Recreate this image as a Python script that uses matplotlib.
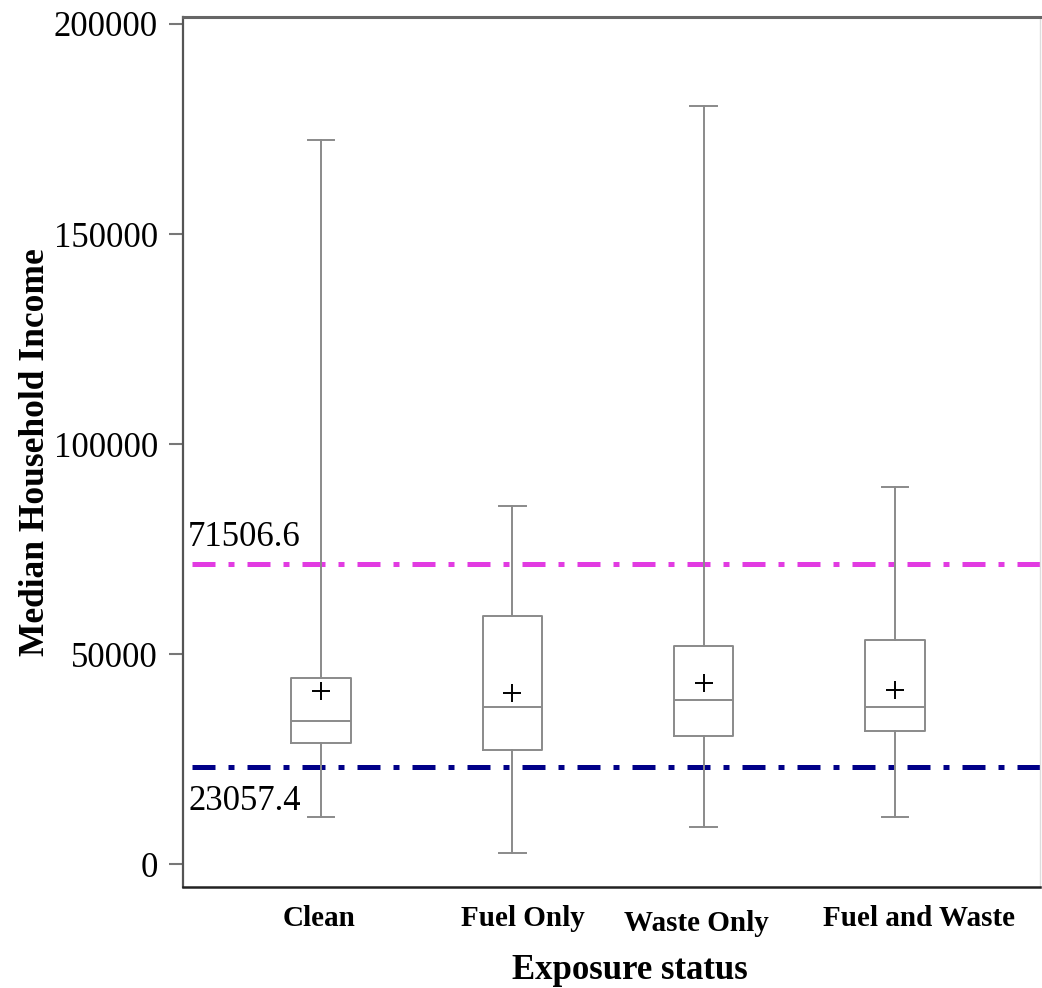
import matplotlib
matplotlib.use("Agg")
import matplotlib.pyplot as plt
import matplotlib.transforms as mtransforms

# values
groups = ["Clean", "Fuel Only", "Waste Only", "Fuel and Waste"]
whisker_low = [11190, 2620, 8810, 11190]
q1 = [28810, 27140, 30480, 31670]
median = [34050, 37380, 39050, 37380]
q3 = [44290, 59050, 51900, 53330]
whisker_high = [172380, 85240, 180480, 89760]
mean = [41190, 40710, 43100, 41430]

upper_ref = 71506.6
lower_ref = 23057.4

plt.rcParams["font.family"] = ["Liberation Serif", "DejaVu Serif"]

stats = []
for i, g in enumerate(groups):
    stats.append({"label": g, "whislo": whisker_low[i], "q1": q1[i], "med": median[i],
                  "q3": q3[i], "whishi": whisker_high[i], "mean": mean[i], "fliers": []})

fig = plt.figure(figsize=(10.42, 9.88), dpi=100)
ax = fig.add_axes([0.1756, 0.1022, 0.8224, 0.8806])

box_color = "#8a8a8a"
ax.bxp(stats, positions=range(1, 5), widths=0.31, capwidths=0.14, showmeans=True,
       boxprops=dict(color=box_color, linewidth=1.4),
       whiskerprops=dict(color=box_color, linewidth=1.4),
       capprops=dict(color=box_color, linewidth=1.4),
       medianprops=dict(color=box_color, linewidth=1.4),
       meanprops=dict(marker="+", markeredgecolor="black", markersize=13, markeredgewidth=1.4))

# reference lines (dash-dot), dashes scaled by line width
dash = (9.2, (4.6, 2.6, 1.2, 2.6))
ax.axhline(upper_ref, color="#e23be2", linewidth=3.6, linestyle=dash, zorder=1)
ax.axhline(lower_ref, color="#000088", linewidth=3.6, linestyle=dash, zorder=1)

trans = mtransforms.blended_transform_factory(ax.transAxes, ax.transData)
ax.annotate(f"{upper_ref}", xy=(0.006, upper_ref), xycoords=trans,
            xytext=(0, 7), textcoords="offset points", fontsize=25, va="bottom", ha="left")
ax.annotate(f"{lower_ref}", xy=(0.006, lower_ref), xycoords=trans,
            xytext=(0, -13), textcoords="offset points", fontsize=25, va="top", ha="left")

ax.set_xlim(0.2786, 4.758)
ax.set_ylim(-5476, 201667)
ax.set_yticks([0, 50000, 100000, 150000, 200000])
ax.set_yticklabels(["0", "50000", "100000", "150000", "200000"])
ax.tick_params(axis="y", length=10, width=1.5, color="#777777", labelsize=25, pad=8)
ax.tick_params(axis="x", length=0, labelsize=21, pad=13)
ax.set_xticks(range(1, 5))
ax.set_xticklabels(groups, fontweight="bold")

# nudge tick labels like in the original
shifts = [(-2, 0), (11, 0), (-7, -5), (24, 0)]
for lab, (dx, dy) in zip(ax.get_xticklabels(), shifts):
    off = mtransforms.ScaledTranslation(dx / 100, dy / 100, fig.dpi_scale_trans)
    lab.set_transform(lab.get_transform() + off)

ax.set_xlabel("Exposure status", fontsize=25, fontweight="bold", labelpad=12)
ax.xaxis.label.set_transform(ax.xaxis.label.get_transform()
                             + mtransforms.ScaledTranslation(0.18, 0, fig.dpi_scale_trans))
ax.set_ylabel("Median Household Income", fontsize=25.5, fontweight="bold", labelpad=1)

ax.spines["left"].set_color("#555555")
ax.spines["left"].set_linewidth(1.6)
ax.spines["top"].set_color("#666666")
ax.spines["top"].set_linewidth(2.2)
ax.spines["bottom"].set_color("#222222")
ax.spines["bottom"].set_linewidth(1.8)
ax.spines["right"].set_color("#dddddd")
ax.spines["right"].set_linewidth(1.0)

fig.savefig("out.png", dpi=100)
